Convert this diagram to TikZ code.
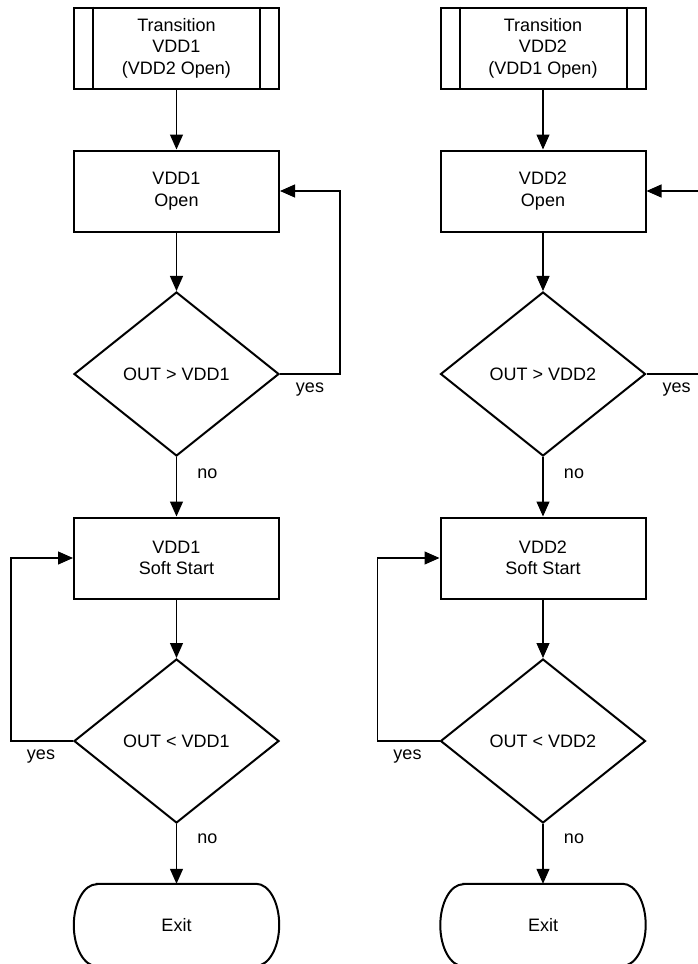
\documentclass[tikz,border=0pt]{standalone}
\usepackage{fontspec}
\setmainfont{Liberation Sans}
\usetikzlibrary{shapes.geometric,arrows.meta}

\def\xa{176.5}
\def\xb{543}
\def\rx{23pt}
\def\ry{41pt}

\begin{document}
\begin{tikzpicture}[x=1pt,y=1pt]
\tikzstyle{texte}=[font=\fontsize{18}{21.5}\selectfont]
\tikzstyle{boite}=[texte,draw,line width=2pt,minimum width=205pt,minimum height=81pt,align=center]
\tikzstyle{losange}=[texte,draw,diamond,line width=2pt,minimum width=205pt,minimum height=164pt,inner sep=0pt]
\tikzstyle{terminal}=[texte,minimum width=205pt,minimum height=82pt]
\tikzstyle{bord}=[line width=2pt]
\tikzstyle{fleche}=[->,>={Triangle[length=15pt,width=13pt]},line width=1.2pt]
\tikzstyle{etiquette}=[texte]

\path[use as bounding box,fill=white] (0,0) rectangle (697,-964);

% colonne VDD1
\node[boite] (trans1) at (\xa,-48) {Transition\\VDD1\\(VDD2 Open)};
\node[boite] (open1) at (\xa,-191) {VDD1\\Open};
\node[losange] (sup1) at (\xa,-374) {OUT > VDD1};
\node[boite] (soft1) at (\xa,-558) {VDD1\\Soft Start};
\node[losange] (inf1) at (\xa,-741) {OUT < VDD1};
\node[terminal] (exit1) at (\xa,-925) {Exit};

% colonne VDD2
\node[boite] (trans2) at (\xb,-48) {Transition\\VDD2\\(VDD1 Open)};
\node[boite] (open2) at (\xb,-191) {VDD2\\Open};
\node[losange] (sup2) at (\xb,-374) {OUT > VDD2};
\node[boite] (soft2) at (\xb,-558) {VDD2\\Soft Start};
\node[losange] (inf2) at (\xb,-741) {OUT < VDD2};
\node[terminal] (exit2) at (\xb,-925) {Exit};

% bandes laterales et terminaux
\draw[bord] ([xshift=20pt]trans1.north west) -- ([xshift=20pt]trans1.south west);
\draw[bord] ([xshift=-20pt]trans1.north east) -- ([xshift=-20pt]trans1.south east);
\draw[bord] ([xshift=20pt]trans2.north west) -- ([xshift=20pt]trans2.south west);
\draw[bord] ([xshift=-20pt]trans2.north east) -- ([xshift=-20pt]trans2.south east);
\draw[bord] ([xshift=\rx]exit1.north west) -- ([xshift=-\rx]exit1.north east)
  arc[start angle=90,end angle=-90,x radius=\rx,y radius=\ry]
  -- ([xshift=\rx]exit1.south west)
  arc[start angle=270,end angle=90,x radius=\rx,y radius=\ry] -- cycle;
\draw[bord] ([xshift=\rx]exit2.north west) -- ([xshift=-\rx]exit2.north east)
  arc[start angle=90,end angle=-90,x radius=\rx,y radius=\ry]
  -- ([xshift=\rx]exit2.south west)
  arc[start angle=270,end angle=90,x radius=\rx,y radius=\ry] -- cycle;

\draw[fleche] (trans1) -- (open1);
\draw[fleche] (open1) -- (sup1);
\draw[fleche] (sup1) -- (soft1);
\draw[fleche] (soft1) -- (inf1);
\draw[fleche] (inf1) -- (exit1.north);
\draw[fleche] (sup1.east) -- ++(60,0) |- (open1.east);
\draw[fleche] (inf1.west) -- ++(-62,0) |- (soft1.west);

\draw[fleche] (trans2) -- (open2);
\draw[fleche] (open2) -- (sup2);
\draw[fleche] (sup2) -- (soft2);
\draw[fleche] (soft2) -- (inf2);
\draw[fleche] (inf2) -- (exit2.north);
\draw[fleche] (sup2.east) -- ++(60,0) |- (open2.east);
\draw[fleche] (inf2.west) -- ++(-62,0) |- (soft2.west);

\node[etiquette] (oui1) at ([xshift=30pt,yshift=-16pt]sup1.east) {yes};
\node[etiquette] (non1) at ([xshift=31pt,yshift=-17pt]sup1.south) {no};
\node[etiquette] (oui2) at ([xshift=-32pt,yshift=-16pt]inf1.west) {yes};
\node[etiquette] (non2) at ([xshift=31pt,yshift=-15pt]inf1.south) {no};
\node[etiquette] (oui3) at ([xshift=30pt,yshift=-16pt]sup2.east) {yes};
\node[etiquette] (non3) at ([xshift=31pt,yshift=-17pt]sup2.south) {no};
\node[etiquette] (oui4) at ([xshift=-32pt,yshift=-16pt]inf2.west) {yes};
\node[etiquette] (non4) at ([xshift=31pt,yshift=-15pt]inf2.south) {no};

\end{tikzpicture}
\end{document}
